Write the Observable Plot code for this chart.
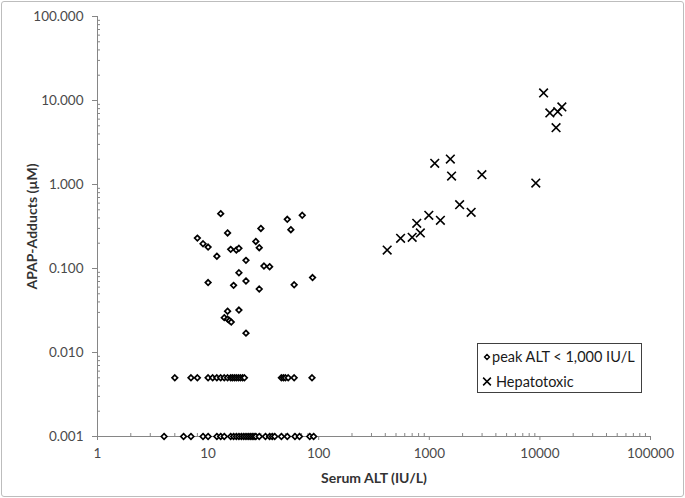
<!DOCTYPE html>
<html><head><meta charset="utf-8">
<script src="https://cdn.jsdelivr.net/npm/d3@7"></script>
<script src="https://cdn.jsdelivr.net/npm/@observablehq/plot@0.6"></script>
<style>
body{margin:0;background:#fff;}
#wrap{position:relative;width:685px;height:498px;overflow:hidden;font-family:Lato,"Open Sans",sans-serif;}
#border{position:absolute;left:1px;top:1px;width:681px;height:494px;border:1px solid #bdbdbd;border-radius:3px;pointer-events:none;}
#legend{position:absolute;left:477px;top:343px;width:165px;height:50px;border:1px solid #404040;box-sizing:border-box;background:#fff;font-size:14.5px;color:#1a1a1a;}
#legend .row{position:absolute;white-space:nowrap;line-height:17px;}
#legend svg{position:absolute;left:0;top:0;}
</style>
</head><body>
<div id="wrap"><div id="chart"></div><div id="legend"></div><div id="border"></div></div>
<script>
// Peak ALT < 1,000 IU/L series (Serum ALT, APAP-adducts)
const lowALT = [13, 52, 71, 30, 56, 15, 8, 9, 10, 27, 29, 16, 18, 19, 12, 22, 32, 36, 19, 88, 10, 22, 17, 60, 29, 15, 19, 14, 15, 15.6, 16.2, 22,
  5, 7, 8, 10, 11, 12, 13, 14, 15, 16, 16.6, 17.3, 18, 18.8, 19.6, 20.5, 21.3, 46, 48, 50, 53, 60, 87,
  4, 6, 7, 9, 10, 12, 13, 14, 16, 17, 18, 19, 20, 21, 22, 23, 24, 25, 26, 27, 29, 33, 36, 38, 40, 46, 52, 61, 67, 83, 90];
const lowAdducts = [0.45, 0.385, 0.43, 0.30, 0.29, 0.265, 0.23, 0.197, 0.18, 0.21, 0.177, 0.169, 0.166, 0.174, 0.14, 0.125, 0.107, 0.105, 0.089, 0.078, 0.068, 0.071, 0.063, 0.064, 0.057, 0.031, 0.032, 0.026, 0.025, 0.024, 0.023, 0.017,
  0.005, 0.005, 0.005, 0.005, 0.005, 0.005, 0.005, 0.005, 0.005, 0.005, 0.005, 0.005, 0.005, 0.005, 0.005, 0.005, 0.005, 0.005, 0.005, 0.005, 0.005, 0.005, 0.005,
  0.001, 0.001, 0.001, 0.001, 0.001, 0.001, 0.001, 0.001, 0.001, 0.001, 0.001, 0.001, 0.001, 0.001, 0.001, 0.001, 0.001, 0.001, 0.001, 0.001, 0.001, 0.001, 0.001, 0.001, 0.001, 0.001, 0.001, 0.001, 0.001, 0.001, 0.001];
// Hepatotoxic series
const hepALT = [10800, 12300, 14500, 15800, 14000, 1120, 1550, 1590, 2990, 9180, 1880, 2390, 990, 1260, 770, 830, 700, 550, 416];
const hepAdducts = [12.3, 7.1, 7.36, 8.37, 4.75, 1.79, 2.01, 1.26, 1.31, 1.04, 0.575, 0.467, 0.43, 0.375, 0.345, 0.265, 0.235, 0.229, 0.166];

const xTicks = [1, 10, 100, 1000, 10000, 100000];
const yTicks = [0.001, 0.01, 0.1, 1, 10, 100];
const seriesNames = ["peak ALT < 1,000 IU/L", "Hepatotoxic"];
const xTitle = "Serum ALT (IU/L)";
const yTitle = "APAP-Adducts (µM)";

const lowData = lowALT.map((a, i) => ({alt: a, add: lowAdducts[i]}));
const hepData = hepALT.map((a, i) => ({alt: a, add: hepAdducts[i]}));

const W = 685, H = 498, mL = 97, mR = 35, mT = 16, mB = 62;
const innerW = W - mL - mR, innerH = H - mT - mB;
const axisColor = "#868686";
const labelColor = "#4a4a4a";
const xDomain = [xTicks[0], xTicks[xTicks.length - 1]];
const yDomain = [yTicks[0], yTicks[yTicks.length - 1]];
const xMinor = d3.scaleLog().domain(xDomain).ticks().filter(t => !xTicks.includes(t));
const yMinor = d3.scaleLog().domain(yDomain).ticks().filter(t => !yTicks.some(m => Math.abs(m - t) / m < 1e-9));

const plot = Plot.plot({
  width: W, height: H,
  marginLeft: mL, marginRight: mR, marginTop: mT, marginBottom: mB,
  style: {fontFamily: "Lato, 'Open Sans', sans-serif", fontSize: "13px", color: labelColor, background: "transparent"},
  x: {type: "log", domain: xDomain},
  y: {type: "log", domain: yDomain},
  marks: [
    Plot.ruleY(yMinor, {insetRight: innerW - 3, stroke: axisColor}),
    Plot.ruleX(xMinor, {insetTop: innerH - 3, stroke: axisColor}),
    Plot.ruleX([xDomain[0]], {stroke: axisColor}),
    Plot.ruleY([yDomain[0]], {stroke: axisColor}),
    Plot.axisY(yTicks, {tickSize: 5, tickPadding: 9, tickFormat: d => d.toFixed(3), label: null, stroke: axisColor, fill: labelColor, fontSize: 13.5}),
    Plot.axisX(xTicks, {tickSize: 4, tickPadding: 8, tickFormat: d => String(Math.round(d)), label: null, stroke: axisColor, fill: labelColor, fontSize: 13.5}),
    Plot.text([yTitle], {frameAnchor: "left", textAnchor: "middle", lineAnchor: "middle", dx: -65, rotate: -90, fontWeight: "bold", fontSize: 14, fill: "#333"}),
    Plot.text([xTitle], {frameAnchor: "bottom", textAnchor: "middle", lineAnchor: "middle", dy: 42, fontWeight: "bold", fontSize: 14, fill: "#333"}),
    Plot.dot(lowData, {x: "alt", y: "add", symbol: "diamond2", r: 2.5, stroke: "#000", strokeWidth: 1.7, fill: "#fff"}),
    Plot.dot(hepData, {x: "alt", y: "add", symbol: "times", r: 4, stroke: "#000", strokeWidth: 1.6})
  ]
});
document.getElementById("chart").appendChild(plot);

// Legend (inside plot area, as in the reference)
const legend = d3.select("#legend");
const lsvg = legend.append("svg").attr("width", 163).attr("height", 48);
lsvg.append("path").attr("transform", "translate(9,13)")
  .attr("d", d3.symbol(d3.symbolDiamond2, Math.PI * 2.2 * 2.2)())
  .attr("fill", "#fff").attr("stroke", "#000").attr("stroke-width", 1.4);
lsvg.append("path").attr("transform", "translate(9,37.5)")
  .attr("d", d3.symbol(d3.symbolTimes, Math.PI * 3.6 * 3.6)())
  .attr("fill", "none").attr("stroke", "#000").attr("stroke-width", 1.5);
legend.append("div").attr("class", "row").style("left", "14px").style("top", "4px").text(seriesNames[0]);
legend.append("div").attr("class", "row").style("left", "18px").style("top", "29px").text(seriesNames[1]);
</script>
</body></html>
